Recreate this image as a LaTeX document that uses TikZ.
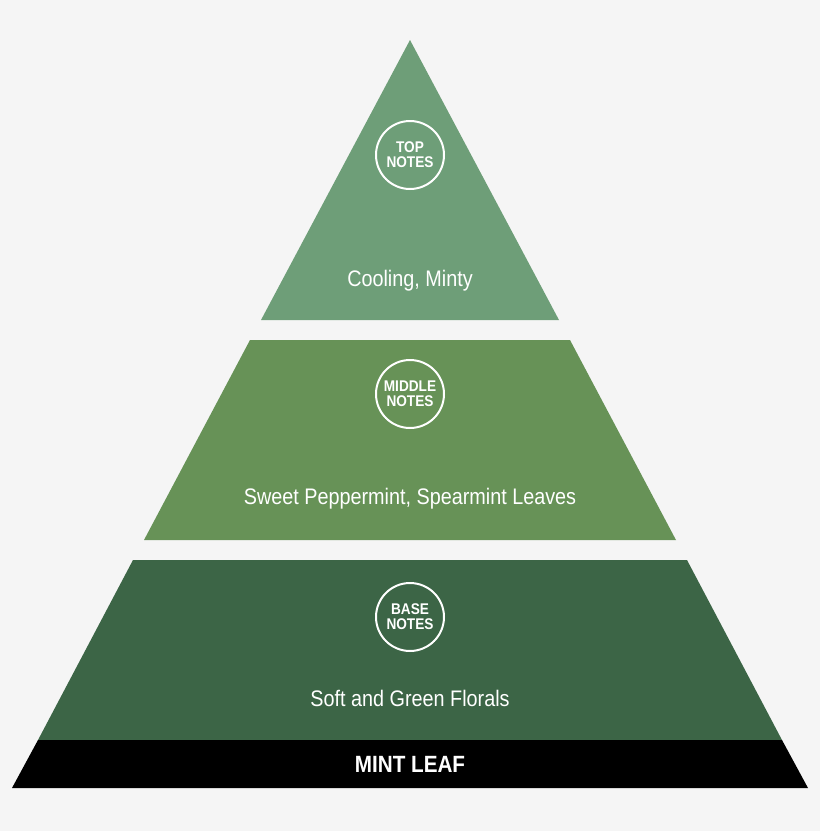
\documentclass[tikz,border=0pt]{standalone}
\usepackage{fontspec}
\setmainfont{Liberation Sans}[FakeStretch=0.88]
\definecolor{bg}{HTML}{F5F5F5}
\definecolor{ctop}{HTML}{6E9E78}
\definecolor{cmid}{HTML}{679257}
\definecolor{cbase}{HTML}{3C6546}
\tikzset{
  lbl/.style={text=white,font=\fontsize{22.5}{26}\selectfont},
  badge/.style={circle,draw=white,line width=2pt,minimum size=68pt,inner sep=0pt,text=white,align=center,font=\bfseries\fontsize{15.5}{15}\selectfont}
}
\begin{document}
\begin{tikzpicture}[x=1pt,y=-1pt]
\fill[bg] (0,0) rectangle (820,831);
\useasboundingbox (0,0) rectangle (820,831);
\fill[ctop] (410,40) -- (559,320) -- (261,320) -- cycle;
\fill[cmid] (250,340) -- (570,340) -- (676,540) -- (144,540) -- cycle;
\fill[cbase] (133,560) -- (687,560) -- (782,740) -- (38,740) -- cycle;
\fill[black] (38,740) -- (782,740) -- (808,788) -- (12,788) -- cycle;
\node[badge] (t) at (410,155) {TOP\\NOTES};
\node[lbl] (tl) at (410,281) {Cooling, Minty};
\node[badge] (m) at (410,394) {MIDDLE\\NOTES};
\node[lbl] (ml) at (410,499) {Sweet Peppermint, Spearmint Leaves};
\node[badge] (b) at (410,617) {BASE\\NOTES};
\node[lbl] (bl) at (410,698) {Soft and Green Florals};
\node[text=white,font=\bfseries\fontsize{23.5}{26}\selectfont] (ml2) at (410,764) {MINT LEAF};
\end{tikzpicture}
\end{document}
